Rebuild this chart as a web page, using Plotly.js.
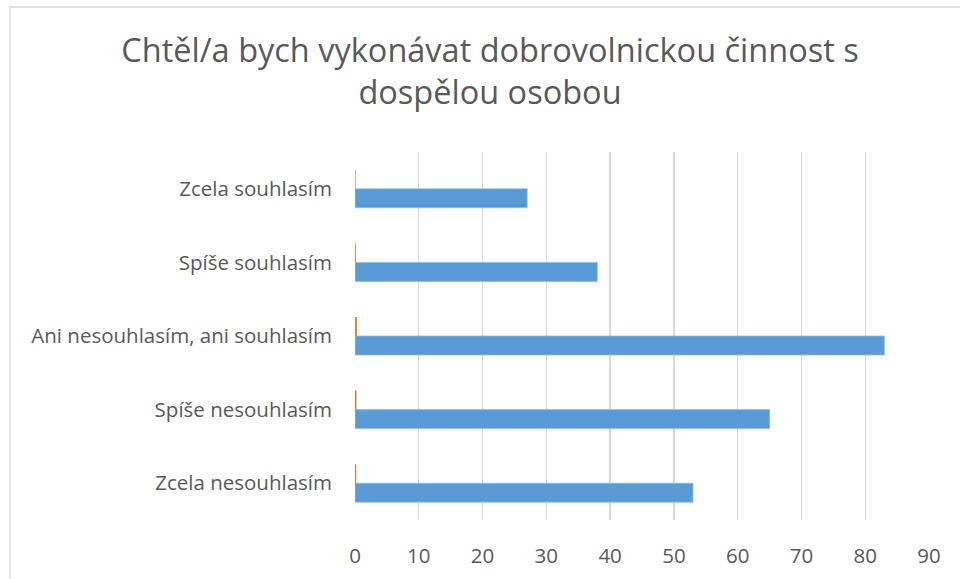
<!DOCTYPE html>
<html>
<head>
<meta charset="utf-8">
<script src="https://cdn.plot.ly/plotly-3.0.1.min.js"></script>
<style>
html,body{margin:0;padding:0;background:#fff;}
#chart{width:960px;height:579px;}
</style>
</head>
<body>
<div id="chart"></div>
<script>
// Categories listed bottom-to-top (as Excel draws them)
var categories = ["Zcela nesouhlasím", "Spíše nesouhlasím", "Ani nesouhlasím, ani souhlasím", "Spíše souhlasím", "Zcela souhlasím"];
var countValues = [53, 65, 83, 38, 27];
var shareValues = [0.2, 0.24, 0.31, 0.14, 0.1];
var xTickValues = [0, 10, 20, 30, 40, 50, 60, 70, 80, 90];
var titleText = "Chtěl/a bych vykonávat dobrovolnickou činnost s<br>dospělou osobou";

var W = 960, H = 579;
var L = 355, R = 929, T = 152, B = 520;
function px(x){ return (x - L) / (R - L); }
function py(y){ return (B - y) / (B - T); }

var traces = [
  {
    type: "bar", orientation: "h", name: "Počet",
    y: categories, x: countValues,
    marker: {color: "#5b9bd5", line: {color: "#8fbbe3", width: 0.8}},
    hoverinfo: "x+y"
  },
  {
    type: "bar", orientation: "h", name: "Podíl",
    y: categories, x: shareValues,
    marker: {color: "#ed7d31", line: {width: 0}},
    hoverinfo: "x+y"
  }
];

var layout = {
  width: W, height: H,
  margin: {l: L, r: W - R, t: T, b: H - B, pad: 0},
  paper_bgcolor: "#ffffff",
  plot_bgcolor: "#ffffff",
  showlegend: false,
  barmode: "group",
  bargap: 0.484,
  bargroupgap: 0,
  font: {family: "Open Sans, sans-serif", color: "#595959"},
  title: {
    text: titleText,
    font: {family: "Open Sans, sans-serif", size: 32.5, color: "#595959"},
    x: 490 / W, xanchor: "center", xref: "container",
    y: 1 - 62 / H, yanchor: "top", yref: "container"
  },
  xaxis: {
    range: [0, 90],
    tickvals: xTickValues,
    ticktext: xTickValues.map(String),
    showgrid: true, gridcolor: "#d9d9d9", gridwidth: 1.3,
    zeroline: false, showline: false,
    ticks: "", ticklabelstandoff: 21,
    tickfont: {family: "Open Sans, sans-serif", size: 20.5, color: "#595959"},
    fixedrange: true
  },
  yaxis: {
    type: "category",
    categoryorder: "array", categoryarray: categories,
    showgrid: false, zeroline: false, showline: false,
    ticks: "", ticklabelstandoff: 22,
    tickfont: {family: "Open Sans, sans-serif", size: 20.5, color: "#595959"},
    fixedrange: true
  },
  shapes: [
    {
      type: "rect", xref: "paper", yref: "paper",
      x0: px(10), x1: px(975), y0: py(7), y1: py(600),
      line: {color: "#d9d9d9", width: 1.3}, fillcolor: "rgba(0,0,0,0)", layer: "below"
    }
  ]
};

Plotly.newPlot("chart", traces, layout, {displayModeBar: false, staticPlot: true});
</script>
</body>
</html>
